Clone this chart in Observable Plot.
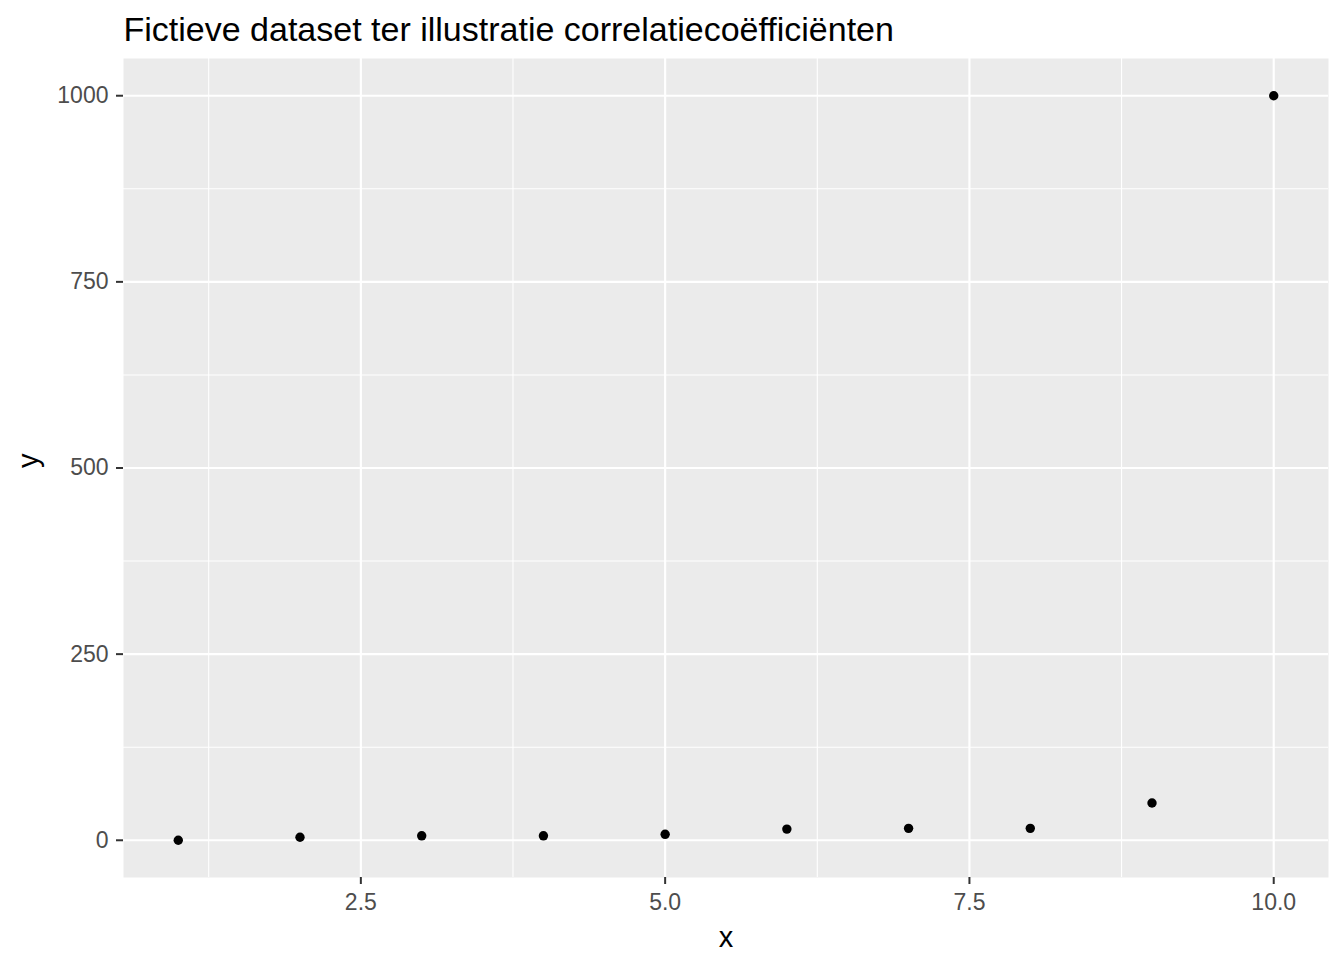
<!DOCTYPE html>
<html>
<head>
<meta charset="utf-8">
<script src="https://cdn.jsdelivr.net/npm/d3@7"></script>
<script src="https://cdn.jsdelivr.net/npm/@observablehq/plot@0.6"></script>
<style>
  html, body { margin: 0; padding: 0; background: white; }
</style>
</head>
<body>
<div id="chart"></div>
<script>
const titleText = "Fictieve dataset ter illustratie correlatiecoëfficiënten";
const xLabel = "x";
const yLabel = "y";
const xValues = [1, 2, 3, 4, 5, 6, 7, 8, 9, 10];
const yValues = [0, 4, 6, 6, 8, 15, 16, 16, 50, 1000];
const xTicks = [2.5, 5.0, 7.5, 10.0];
const xMinor = [1.25, 3.75, 6.25, 8.75];
const yTicks = [0, 250, 500, 750, 1000];
const yMinor = [125, 375, 625, 875];

const data = xValues.map((x, i) => ({x, y: yValues[i]}));
const font = "'Liberation Sans', Arial, sans-serif";

const chart = Plot.plot({
  width: 1344,
  height: 960,
  marginLeft: 123,
  marginRight: 16,
  marginTop: 58,
  marginBottom: 83,
  style: {fontFamily: font, background: "white"},
  x: {domain: [0.55, 10.45]},
  y: {domain: [-50, 1050]},
  marks: [
    Plot.frame({fill: "#EBEBEB", stroke: null}),
    Plot.ruleX(xMinor, {stroke: "white", strokeWidth: 1.07}),
    Plot.ruleY(yMinor, {stroke: "white", strokeWidth: 1.07}),
    Plot.ruleX(xTicks, {stroke: "white", strokeWidth: 2.13}),
    Plot.ruleY(yTicks, {stroke: "white", strokeWidth: 2.13}),
    Plot.dot(data, {x: "x", y: "y", r: 4.7, fill: "black", stroke: null}),
    Plot.axisX(xTicks, {tickFormat: d3.format(".1f"), tickSize: 7, tickPadding: 9, fontSize: 23, stroke: "#333333", strokeWidth: 2, fill: "#4D4D4D", label: null}),
    Plot.axisY(yTicks, {tickFormat: d => String(d), tickSize: 7, tickPadding: 8, fontSize: 23, stroke: "#333333", strokeWidth: 2, fill: "#4D4D4D", label: null}),
    Plot.text([xLabel], {frameAnchor: "bottom", lineAnchor: "bottom", dy: 69, fontSize: 29, fill: "black"}),
    Plot.text([yLabel], {frameAnchor: "left", lineAnchor: "bottom", dx: -86, rotate: -90, fontSize: 29, fill: "black"}),
    Plot.text([titleText], {frameAnchor: "top-left", textAnchor: "start", lineAnchor: "bottom", dy: -18, fontSize: 34, fill: "black"})
  ]
});
document.getElementById("chart").appendChild(chart);
</script>
</body>
</html>
